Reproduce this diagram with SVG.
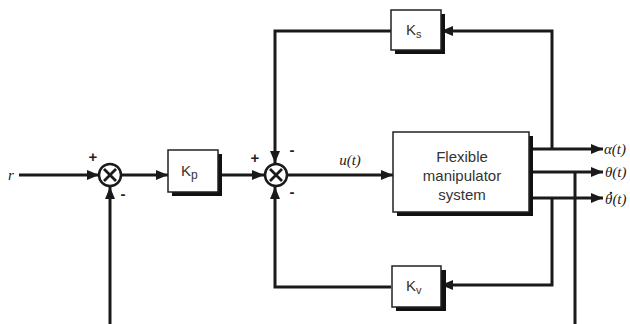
<svg xmlns="http://www.w3.org/2000/svg" width="630" height="324" viewBox="0 0 630 324">
<style>
.ln{fill:none;stroke:#1a1a1a;stroke-width:3}
.box{fill:#fff;stroke:#222;stroke-width:1.5}
.sh{fill:#111}
.sum{fill:#fff;stroke:#1a1a1a;stroke-width:2.5}
.x{stroke:#1a1a1a;stroke-width:2.8}
.t{font-family:"Liberation Sans",Arial,sans-serif;fill:#333;font-size:15px}
.sg{font-family:"Liberation Sans",Arial,sans-serif;fill:#222;font-size:15px;font-weight:bold}
.m{font-family:"Liberation Serif","Times New Roman",serif;font-style:italic;fill:#222;font-size:15px}
</style>
<defs>
<marker id="ar" viewBox="0 0 12 10" refX="12" refY="5" markerWidth="12" markerHeight="10" markerUnits="userSpaceOnUse" orient="auto">
<path d="M0,0 L12,5 L0,10 Z" fill="#1a1a1a"/>
</marker>
</defs>
<g id="connectors">
<path class="ln" d="M19,175 H99" marker-end="url(#ar)"/>
<path class="ln" d="M121,175 H168" marker-end="url(#ar)"/>
<path class="ln" d="M218,175 H264" marker-end="url(#ar)"/>
<path class="ln" d="M288,175 H393" marker-end="url(#ar)"/>
<path class="ln" d="M110,324 V187" marker-end="url(#ar)"/>
<path class="ln" d="M552,149 V31 H441" marker-end="url(#ar)"/>
<path class="ln" d="M391,31 H275 V163" marker-end="url(#ar)"/>
<path class="ln" d="M552,198 V285 H441" marker-end="url(#ar)"/>
<path class="ln" d="M391,287 H275 V187" marker-end="url(#ar)"/>
<path class="ln" d="M529,149 H603" marker-end="url(#ar)"/>
<path class="ln" d="M529,172 H603" marker-end="url(#ar)"/>
<path class="ln" d="M529,198 H603" marker-end="url(#ar)"/>
<path class="ln" d="M575,172 V324"/>
</g>
<g id="sum1">
<circle class="sum" cx="110" cy="175" r="11"/>
<path class="x" d="M104,169 L116,181 M116,169 L104,181"/>
<text class="sg" x="93" y="162" text-anchor="middle">+</text>
<text class="sg" x="123" y="199" text-anchor="middle">-</text>
</g>
<g id="sum2">
<circle class="sum" cx="276" cy="175" r="11"/>
<path class="x" d="M270,169 L282,181 M282,169 L270,181"/>
<text class="sg" x="255" y="163" text-anchor="middle">+</text>
<text class="sg" x="292" y="155" text-anchor="middle">-</text>
<text class="sg" x="292" y="197" text-anchor="middle">-</text>
</g>
<g id="kp">
<rect class="sh" x="172" y="154" width="50" height="42"/>
<rect class="box" x="168" y="150" width="50" height="42"/>
<text class="t" x="181" y="176" font-size="17">K<tspan font-size="12" dy="3">p</tspan></text>
</g>
<g id="ks">
<rect class="sh" x="395" y="14" width="50" height="40"/>
<rect class="box" x="391" y="10" width="50" height="40"/>
<text class="t" x="406" y="35">K<tspan font-size="11" dy="3">s</tspan></text>
</g>
<g id="kv">
<rect class="sh" x="396" y="270" width="50" height="41"/>
<rect class="box" x="392" y="266" width="49" height="41"/>
<text class="t" x="406" y="291">K<tspan font-size="11" dy="3">v</tspan></text>
</g>
<g id="plant">
<rect class="sh" x="397" y="136" width="136" height="80"/>
<rect class="box" x="393" y="132" width="136" height="80"/>
<text class="t" x="462" y="162" text-anchor="middle">Flexible</text>
<text class="t" x="462" y="181" text-anchor="middle">manipulator</text>
<text class="t" x="462" y="200" text-anchor="middle">system</text>
</g>
<g id="labels">
<text class="m" x="8" y="180">r</text>
<text class="m" x="350" y="165" text-anchor="middle">u(t)</text>
<text class="m" x="604" y="154">α(t)</text>
<text class="m" x="605" y="177">θ(t)</text>
<text class="m" x="605" y="204">θ<tspan dx="-5" dy="-2" font-weight="bold">˙</tspan><tspan dy="2">(t)</tspan></text>
</g>
</svg>
